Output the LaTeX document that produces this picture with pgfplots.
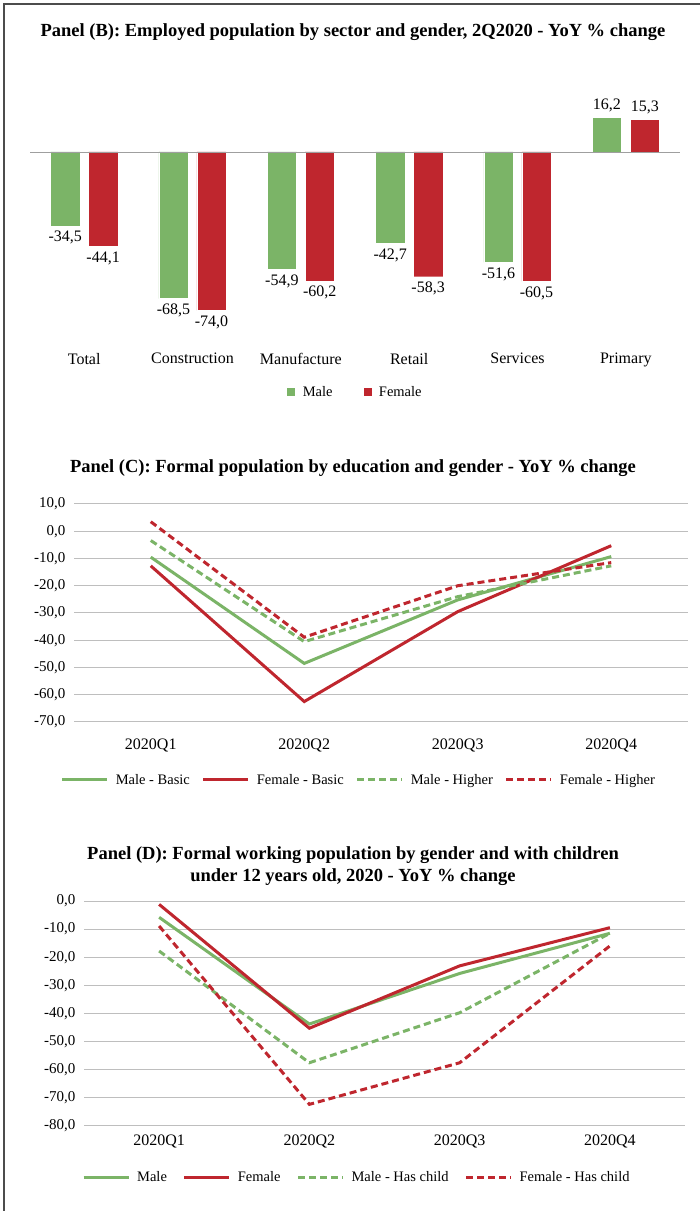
\documentclass[border=0pt]{standalone}
\usepackage{fontspec}
\setmainfont{Liberation Serif}
\usepackage{pgfplots}
\pgfplotsset{compat=1.18}
\definecolor{mgreen}{RGB}{123,180,103}
\definecolor{fred}{RGB}{191,38,46}
\definecolor{gridgray}{RGB}{190,190,190}
\pgfplotsset{
  /pgf/number format/assume math mode=true,
  every axis/.append style={
    scale only axis, enlargelimits=false, clip=false,
    axis line style={draw=none}, tick style={draw=none},
    tick label style={font=\fontsize{15bp}{17bp}\selectfont},
    xticklabel style={font=\fontsize{16bp}{18bp}\selectfont},
    legend style={draw=none, fill=none, font=\fontsize{14.5bp}{16bp}\selectfont,
      /tikz/every odd column/.append style={column sep=5bp}},
  },
  commafmt/.style={yticklabel={\pgfmathprintnumber[fixed,fixed zerofill,precision=1,use comma]{\tick}},
    yticklabel style={xshift=-5bp}},
  lineleg/.style={legend image code/.code={\draw[##1] (0bp,0bp) -- (45bp,0bp);}},
  solidl/.style={line width=3bp},
  dashl/.style={line width=3bp, dash pattern=on 7bp off 4bp},
}
\begin{document}
\begin{tikzpicture}
\useasboundingbox (0,0) rectangle (700bp,1211bp);
\draw[gray!60!black, line width=1.2bp] (4bp,0bp) -- (4bp,1207bp) -- (700bp,1207bp);

% ---------- Panel B ----------
\node[font=\bfseries\fontsize{18.5bp}{21bp}\selectfont] at (353bp,1179bp)
  {Panel (B): Employed population by sector and gender, 2Q2020 - YoY \% change};
\begin{axis}[
  at={(30bp,870.7bp)}, anchor=south west,
  width=650bp, height=273.9bp,
  xmin=-0.5, xmax=5.5, ymin=-88, ymax=40,
  ytick=\empty,
  xtick={0,1,2,3,4,5},
  xticklabels={Total,Construction,Manufacture,Retail,Services,Primary},
  xticklabel style={yshift=-5bp},
  ybar, bar width=0.27,
  nodes near coords={\pgfmathprintnumber[fixed,fixed zerofill,precision=1,use comma]{\pgfplotspointmeta}},
  every node near coord/.append style={font=\fontsize{16bp}{18bp}\selectfont, inner sep=5bp},
  legend style={at={(0.5,-0.189)}, anchor=center, legend columns=2,
    /tikz/every even column/.append style={column sep=28bp}},
  legend image code/.code={\fill[#1] (0bp,-4.5bp) rectangle (9bp,4.5bp);},
]
\addplot[fill=mgreen, draw=white, line width=0.4bp, bar shift=-0.175]
  coordinates {(0,-34.5)(1,-68.5)(2,-54.9)(3,-42.7)(4,-51.6)(5,16.2)};
\addlegendentry{Male}
\addplot[fill=fred, draw=white, line width=0.4bp, bar shift=0.175]
  coordinates {(0,-44.1)(1,-74.0)(2,-60.2)(3,-58.3)(4,-60.5)(5,15.3)};
\addlegendentry{Female}
\draw[gray!75, line width=0.9bp] (axis cs:-0.5,0) -- (axis cs:5.5,0);
\end{axis}

% ---------- Panel C ----------
\node[font=\bfseries\fontsize{18.5bp}{21bp}\selectfont] at (353bp,743bp)
  {Panel (C): Formal population by education and gender - YoY \% change};
\begin{axis}[
  at={(74bp,489bp)}, anchor=south west,
  width=614bp, height=218bp,
  xmin=0.5, xmax=4.5, ymin=-70, ymax=10,
  ytick={-70,-60,...,10}, commafmt,
  ymajorgrids, grid style={gridgray, line width=1bp},
  xtick={1,2,3,4}, xticklabels={2020Q1,2020Q2,2020Q3,2020Q4},
  xticklabel style={yshift=-13bp},
  legend style={at={(0.464,-0.266)}, anchor=center, legend columns=4,
    /tikz/every even column/.append style={column sep=10bp}},
  lineleg,
]
\addplot[mgreen, solidl] coordinates {(1,-9.5)(2,-48.5)(3,-25.2)(4,-9.3)};
\addlegendentry{Male - Basic}
\addplot[fred, solidl] coordinates {(1,-12.7)(2,-62.5)(3,-29.5)(4,-5.3)};
\addlegendentry{Female - Basic}
\addplot[mgreen, dashl] coordinates {(1,-3.4)(2,-40.5)(3,-24.0)(4,-12.7)};
\addlegendentry{Male - Higher}
\addplot[fred, dashl] coordinates {(1,3.5)(2,-38.9)(3,-20.0)(4,-11.5)};
\addlegendentry{Female - Higher}
\end{axis}

% ---------- Panel D ----------
\node[font=\bfseries\fontsize{18.5bp}{22bp}\selectfont, align=center] at (353bp,345bp)
  {Panel (D): Formal working population by gender and with children\\under 12 years old, 2020 - YoY \% change};
\begin{axis}[
  at={(84bp,85.3bp)}, anchor=south west,
  width=601bp, height=224.7bp,
  xmin=0.5, xmax=4.5, ymin=-80, ymax=0,
  ytick={-80,-70,...,0}, commafmt,
  ymajorgrids, grid style={gridgray, line width=1bp},
  xtick={1,2,3,4}, xticklabels={2020Q1,2020Q2,2020Q3,2020Q4},
  xticklabel style={yshift=-6bp},
  legend style={at={(0.454,-0.231)}, anchor=center, legend columns=4,
    /tikz/every even column/.append style={column sep=14bp}},
  lineleg,
]
\addplot[mgreen, solidl] coordinates {(1,-5.8)(2,-43.8)(3,-25.8)(4,-11.5)};
\addlegendentry{Male}
\addplot[fred, solidl] coordinates {(1,-1.2)(2,-45.3)(3,-23.1)(4,-9.5)};
\addlegendentry{Female}
\addplot[mgreen, dashl] coordinates {(1,-17.8)(2,-57.6)(3,-39.8)(4,-11.5)};
\addlegendentry{Male - Has child}
\addplot[fred, dashl] coordinates {(1,-8.9)(2,-72.4)(3,-57.6)(4,-16.0)};
\addlegendentry{Female - Has child}
\end{axis}
\end{tikzpicture}
\end{document}
